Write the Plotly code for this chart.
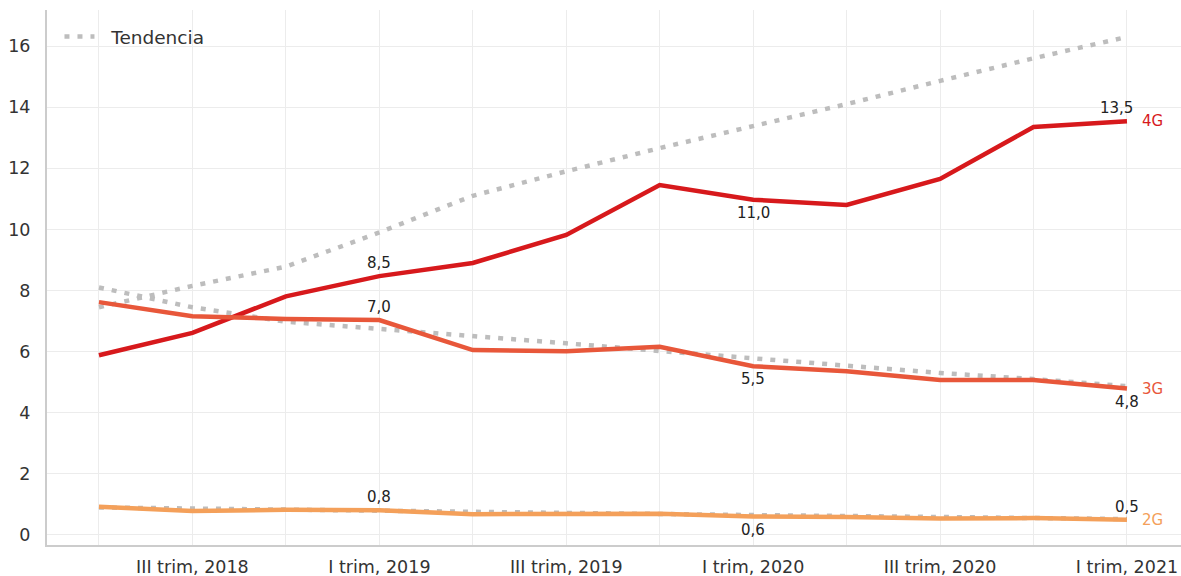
import plotly.graph_objects as go

quarters = ["II trim, 2018", "III trim, 2018", "IV trim, 2018", "I trim, 2019",
            "II trim, 2019", "III trim, 2019", "IV trim, 2019", "I trim, 2020",
            "II trim, 2020", "III trim, 2020", "IV trim, 2020", "I trim, 2021"]
tick_labels = ["", "III trim, 2018", "", "I trim, 2019", "", "III trim, 2019",
               "", "I trim, 2020", "", "III trim, 2020", "", "I trim, 2021"]

g4 = [5.88, 6.61, 7.81, 8.47, 8.9, 9.82, 11.45, 10.97, 10.8, 11.65, 13.35, 13.54]
g3 = [7.62, 7.16, 7.07, 7.03, 6.05, 6.01, 6.16, 5.52, 5.36, 5.07, 5.07, 4.79]
g2 = [0.92, 0.78, 0.82, 0.81, 0.68, 0.68, 0.69, 0.6, 0.59, 0.54, 0.55, 0.5]

t4 = [7.45, 8.15, 8.78, 9.9, 11.1, 11.9, 12.66, 13.38, 14.1, 14.86, 15.6, 16.3]
t3 = [8.1, 7.45, 6.98, 6.75, 6.52, 6.27, 6.02, 5.77, 5.55, 5.3, 5.1, 4.87]
t2 = [0.9, 0.86, 0.83, 0.79, 0.75, 0.72, 0.69, 0.65, 0.62, 0.58, 0.55, 0.52]

series_names = ["4G", "3G", "2G"]
colors = ["#d7191c", "#e8573a", "#f4a05a"]
trend_color = "#bdbdbd"

# value labels shown on the chart: (series index, point index, text, position)
value_labels = [
    (0, 3, "8,5", "above"), (0, 7, "11,0", "below"), (0, 11, "13,5", "above"),
    (1, 3, "7,0", "above"), (1, 7, "5,5", "below"), (1, 11, "4,8", "below"),
    (2, 3, "0,8", "above"), (2, 7, "0,6", "below"), (2, 11, "0,5", "above"),
]

x = list(range(len(quarters)))
series = [g4, g3, g2]

fig = go.Figure()

for i, t in enumerate([t4, t3, t2]):
    fig.add_trace(go.Scatter(
        x=x, y=t, mode="lines", name="\u00a0\u00a0Tendencia",
        line=dict(color=trend_color, width=4.5, dash="5px,8px"),
        showlegend=(i == 0), hoverinfo="skip"))

for vals, name, c in zip(series, series_names, colors):
    fig.add_trace(go.Scatter(
        x=x, y=vals, mode="lines", name=name,
        line=dict(color=c, width=4.5), showlegend=False))

font_family = "DejaVu Sans"

annotations = []
for si, idx, txt, pos in value_labels:
    vals = series[si]
    shift_x = -10 if (si == 0 and idx == len(x) - 1) else 0
    annotations.append(dict(
        x=idx, y=vals[idx], xref="x", yref="y", text=txt, showarrow=False,
        yanchor="bottom" if pos == "above" else "top",
        yshift=2 if pos == "above" else -2, xshift=shift_x,
        font=dict(family=font_family, size=15, color="#222222")))

for vals, name, c in zip(series, series_names, colors):
    annotations.append(dict(
        x=len(x) - 1, y=vals[-1], xref="x", yref="y", text=name,
        showarrow=False, xanchor="left", xshift=13,
        font=dict(family=font_family, size=15, color=c)))

fig.update_layout(
    width=1181, height=576,
    margin=dict(l=47, r=0, t=10, b=31, autoexpand=False),
    plot_bgcolor="white", paper_bgcolor="white",
    font=dict(family=font_family, size=18, color="#333333"),
    showlegend=True,
    legend=dict(x=0.011, y=0.985, xanchor="left", yanchor="top",
                itemwidth=30,
                bgcolor="rgba(0,0,0,0)", font=dict(size=18.5, color="#333333")),
    annotations=annotations,
)
fig.update_xaxes(
    range=[-0.556, 11.578], tickmode="array", tickvals=x, ticktext=tick_labels,
    showgrid=True, gridcolor="#ececec", gridwidth=1,
    showline=True, linecolor="#cccccc", linewidth=2,
    ticks="", ticklabelstandoff=5, zeroline=False, automargin=False,
    tickfont=dict(size=17.5, color="#333333"))
fig.update_yaxes(
    range=[-0.33, 17.18], tickmode="array", tickvals=list(range(0, 17, 2)),
    showgrid=True, gridcolor="#ececec", gridwidth=1,
    showline=True, linecolor="#cccccc", linewidth=2,
    ticks="", ticklabelstandoff=11, zeroline=False, automargin=False,
    tickfont=dict(size=17.5, color="#333333"))

fig.write_html("out.html", config={"displayModeBar": False},
               post_script="document.body.style.margin='0';")
